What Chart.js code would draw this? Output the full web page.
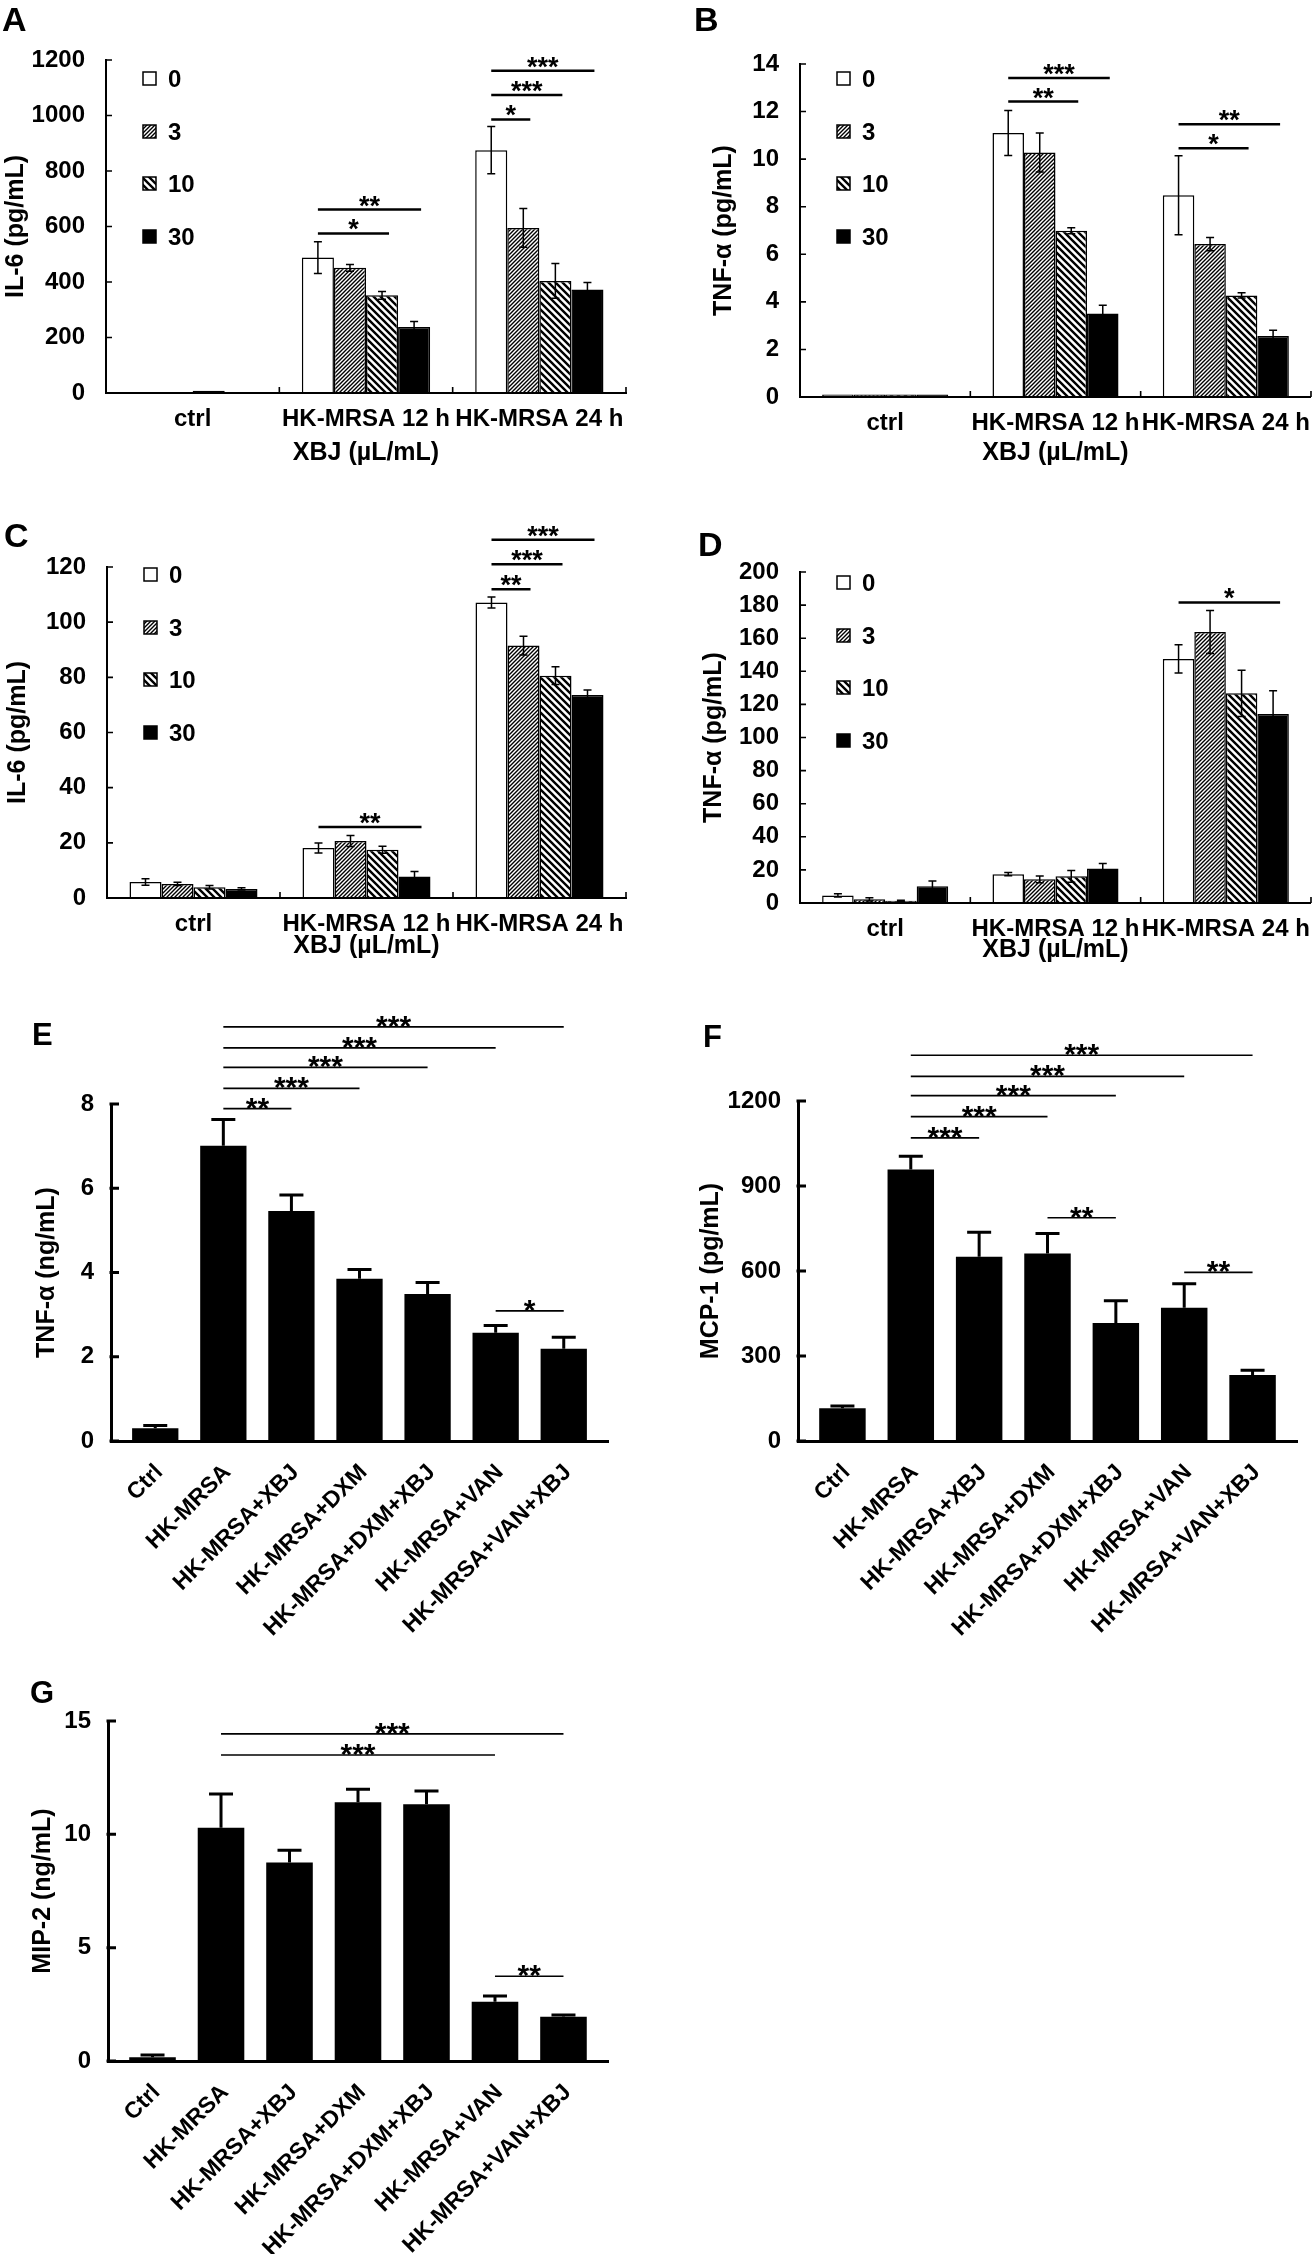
<!DOCTYPE html>
<html>
<head>
<meta charset="utf-8">
<script src="https://cdn.jsdelivr.net/npm/chart.js@4.4.1/dist/chart.umd.min.js"></script>
<style>
body{margin:0;background:#fff;}
#page{position:relative;width:1314px;height:2254px;overflow:hidden;background:#fff;}
#page canvas{position:absolute;}
.tag{position:absolute;font-family:"Liberation Sans",Arial,sans-serif;font-weight:bold;color:#000;line-height:1;}
</style>
</head>
<body>
<div id="page">
  <canvas id="chartA" width="657" height="480" style="left:0;top:0"></canvas>
  <canvas id="chartB" width="657" height="480" style="left:657px;top:0"></canvas>
  <canvas id="chartC" width="657" height="490" style="left:0;top:480px"></canvas>
  <canvas id="chartD" width="657" height="490" style="left:657px;top:480px"></canvas>
  <canvas id="chartE" width="657" height="700" style="left:0;top:970px"></canvas>
  <canvas id="chartF" width="657" height="700" style="left:657px;top:970px"></canvas>
  <canvas id="chartG" width="657" height="584" style="left:0;top:1670px"></canvas>
  <div class="tag" style="left:2px;top:2px;font-size:34px">A</div>
  <div class="tag" style="left:694px;top:2px;font-size:34px">B</div>
  <div class="tag" style="left:4px;top:518px;font-size:34px">C</div>
  <div class="tag" style="left:698px;top:527px;font-size:34px">D</div>
  <div class="tag" style="left:32px;top:1019px;font-size:31px">E</div>
  <div class="tag" style="left:703px;top:1021px;font-size:31px">F</div>
  <div class="tag" style="left:30px;top:1677px;font-size:31px">G</div>
</div>
<script>
// ---- data ----
const doseLabels = ['0', '3', '10', '30'];
const groupLabels = ['ctrl', 'HK-MRSA 12 h', 'HK-MRSA 24 h'];
const treatLabels = ['Ctrl', 'HK-MRSA', 'HK-MRSA+XBJ', 'HK-MRSA+DXM', 'HK-MRSA+DXM+XBJ', 'HK-MRSA+VAN', 'HK-MRSA+VAN+XBJ'];

// rows = XBJ dose (0, 3, 10, 30), columns = ctrl / 12 h / 24 h
const il6A = [[0, 488, 875], [0, 451, 595], [8, 352, 404], [0, 238, 373]];
const il6AErr = [[0, 57, 85], [0, 12, 70], [0, 14, 63], [0, 20, 25]];
const tnfB = [[0.1, 11.1, 8.48], [0.1, 10.28, 6.43], [0.1, 6.99, 4.27], [0.1, 3.51, 2.56]];
const tnfBErr = [[0, 0.95, 1.66], [0, 0.82, 0.28], [0, 0.13, 0.11], [0, 0.35, 0.25]];
const il6C = [[5.8, 18.1, 107.1], [5.1, 20.7, 91.5], [3.9, 17.5, 80.6], [3.3, 7.8, 73.6]];
const il6CErr = [[1.2, 1.8, 2], [0.6, 2, 3.4], [0.6, 1.3, 3.2], [0.4, 1.8, 1.8]];
const tnfD = [[4.6, 17.4, 147.5], [2.2, 14.3, 163.7], [1.4, 16.1, 126.7], [10.1, 20.8, 114.2]];
const tnfDErr = [[1, 1, 8.5], [1, 2, 13], [0.3, 3.5, 14], [3.2, 3, 14]];

// one value per treatment
const tnfE = [0.30, 7.01, 5.46, 3.85, 3.49, 2.57, 2.19];
const tnfEErr = [0.07, 0.62, 0.38, 0.22, 0.27, 0.17, 0.27];
const mcpF = [115.6, 957.8, 650.6, 661.7, 416.4, 470.2, 232.7];
const mcpFErr = [8, 47, 86, 71, 79, 85, 17];
const mipG = [0.17, 10.29, 8.76, 11.42, 11.33, 2.61, 1.95];
const mipGErr = [0.09, 1.49, 0.54, 0.57, 0.58, 0.26, 0.08];

// significance brackets: [group, fromBar, toBar, height in axis units, stars]
const sigA = [[1, 0, 2, 575, '*'], [1, 0, 3, 661, '**'], [2, 0, 1, 986, '*'], [2, 0, 2, 1074, '***'], [2, 0, 3, 1161, '***']];
const sigB = [[1, 0, 2, 12.42, '**'], [1, 0, 3, 13.41, '***'], [2, 0, 2, 10.46, '*'], [2, 0, 3, 11.47, '**']];
const sigC = [[1, 0, 3, 25.7, '**'], [2, 0, 1, 111.9, '**'], [2, 0, 2, 121, '***'], [2, 0, 3, 129.9, '***']];
const sigD = [[2, 0, 3, 181.6, '*']];
// [fromBar, toBar, height, stars]
const sigE = [[1, 2, 7.89, '**'], [1, 3, 8.37, '***'], [1, 4, 8.87, '***'], [1, 5, 9.33, '***'], [1, 6, 9.83, '***'], [5, 6, 3.09, '*']];
const sigF = [[1, 2, 1070, '***'], [1, 3, 1144.6, '***'], [1, 4, 1219, '***'], [1, 5, 1287, '***'], [1, 6, 1361.5, '***'], [3, 4, 788, '**'], [5, 6, 595, '**']];
const sigG = [[1, 5, 13.5, '***'], [1, 6, 14.43, '***'], [5, 6, 3.74, '**']];

// ---- drawing ----
const FONT = '"Liberation Sans", Arial, sans-serif';
Chart.defaults.font.family = FONT;
Chart.defaults.color = '#000';

function hatch(size, lw, forward) {
    const c = document.createElement('canvas');
    c.width = c.height = size;
    const g = c.getContext('2d');
    g.fillStyle = '#fff';
    g.fillRect(0, 0, size, size);
    g.strokeStyle = '#000';
    g.lineWidth = lw;
    g.beginPath();
    if (forward) {
        g.moveTo(0, size); g.lineTo(size, 0);
        g.moveTo(-size / 2, size / 2); g.lineTo(size / 2, -size / 2);
        g.moveTo(size / 2, size * 1.5); g.lineTo(size * 1.5, size / 2);
    } else {
        g.moveTo(0, 0); g.lineTo(size, size);
        g.moveTo(size / 2, -size / 2); g.lineTo(size * 1.5, size / 2);
        g.moveTo(-size / 2, size / 2); g.lineTo(size / 2, size * 1.5);
    }
    g.stroke();
    return g.createPattern(c, 'repeat');
}
const doseFills = ['#fff', hatch(4, 1.4, true), hatch(7, 2.4, false), '#000'];

function valueOf(d) { return typeof d === 'object' ? d.y : d; }

function errorBars(errors, twoSided, lw, cap) {
    return {
        id: 'errorBars',
        afterDatasetsDraw(chart) {
            const ctx = chart.ctx, ys = chart.scales.y;
            ctx.save();
            ctx.strokeStyle = '#000';
            ctx.lineWidth = lw;
            chart.data.datasets.forEach((ds, di) => {
                chart.getDatasetMeta(di).data.forEach((bar, i) => {
                    const e = errors[di][i];
                    if (!e) return;
                    const v = valueOf(ds.data[i]);
                    const top = ys.getPixelForValue(v + e);
                    const bot = twoSided ? ys.getPixelForValue(v - e) : bar.y;
                    ctx.beginPath();
                    ctx.moveTo(bar.x, bot); ctx.lineTo(bar.x, top);
                    ctx.moveTo(bar.x - cap, top); ctx.lineTo(bar.x + cap, top);
                    if (twoSided) { ctx.moveTo(bar.x - cap, bot); ctx.lineTo(bar.x + cap, bot); }
                    ctx.stroke();
                });
            });
            ctx.restore();
        }
    };
}

function sigMarks(marks, grouped, st) {
    return {
        id: 'sigMarks',
        afterDraw(chart) {
            const ctx = chart.ctx, ys = chart.scales.y;
            const barX = (ds, i) => chart.getDatasetMeta(ds).data[i].x;
            ctx.save();
            ctx.strokeStyle = '#000';
            ctx.fillStyle = '#000';
            ctx.lineWidth = st.lw;
            ctx.font = 'bold ' + st.size + 'px ' + FONT;
            ctx.textAlign = 'center';
            ctx.textBaseline = 'alphabetic';
            marks.forEach(m => {
                let x1, x2, h, txt;
                if (grouped) { x1 = barX(m[1], m[0]); x2 = barX(m[2], m[0]) + st.ext; h = m[3]; txt = m[4]; }
                else { x1 = barX(0, m[0]); x2 = barX(0, m[1]) + st.ext; h = m[2]; txt = m[3]; }
                const y = ys.getPixelForValue(h);
                ctx.beginPath();
                ctx.moveTo(x1, y); ctx.lineTo(x2, y);
                ctx.stroke();
                ctx.fillText(txt, (x1 + x2) / 2, y + st.base);
            });
            ctx.restore();
        }
    };
}

// tick marks pointing into the plot area
function innerTicks(len, lw, withX) {
    return {
        id: 'innerTicks',
        afterDraw(chart) {
            const ctx = chart.ctx, xs = chart.scales.x, ys = chart.scales.y;
            const {left, bottom} = chart.chartArea;
            ctx.save();
            ctx.strokeStyle = '#000';
            ctx.lineWidth = lw;
            ctx.beginPath();
            ys.ticks.forEach((t, i) => {
                const p = ys.getPixelForTick(i);
                ctx.moveTo(left - lw / 2, p); ctx.lineTo(left + len, p);
            });
            if (withX) {
                for (let i = 1; i <= xs.ticks.length; i++) {
                    const p = xs.getPixelForValue(i - 0.5);
                    ctx.moveTo(p, bottom); ctx.lineTo(p, bottom - len);
                }
            }
            ctx.stroke();
            ctx.restore();
        }
    };
}

function doseLegend(first) {
    return {
        id: 'doseLegend',
        afterDraw(chart) {
            const ctx = chart.ctx, {left, top} = chart.chartArea;
            ctx.save();
            ctx.font = 'bold 24px ' + FONT;
            ctx.textBaseline = 'middle';
            ctx.lineWidth = 1.5;
            chart.data.datasets.forEach((ds, i) => {
                const y = Math.round(top + first + i * 52.7);
                ctx.fillStyle = ds.backgroundColor;
                ctx.fillRect(left + 37, y - 7, 13, 13);
                ctx.strokeStyle = '#000';
                ctx.strokeRect(left + 37, y - 7, 13, 13);
                ctx.fillStyle = '#000';
                ctx.fillText(ds.label, left + 62, y + 1);
            });
            ctx.restore();
        }
    };
}

const plainNumber = v => String(v);

function groupedChart(id, values, errors, yMax, yStep, yTitle, sigs, lay) {
    return new Chart(document.getElementById(id), {
        type: 'bar',
        data: {
            labels: groupLabels,
            datasets: doseLabels.map((d, i) => ({
                label: d,
                data: values[i],
                backgroundColor: doseFills[i],
                borderColor: '#000',
                borderWidth: 1.5
            }))
        },
        options: {
            responsive: false,
            animation: false,
            events: [],
            layout: {padding: {top: lay.top, right: lay.right, left: 0, bottom: 0}},
            datasets: {bar: {categoryPercentage: 0.74, barPercentage: 1}},
            plugins: {legend: {display: false}, tooltip: {enabled: false}},
            scales: {
                x: {
                    grid: {display: false},
                    border: {color: '#000', width: 2, z: 1},
                    ticks: {font: {size: 24, weight: 'bold'}, padding: 4, maxRotation: 0, autoSkip: false},
                    title: {display: true, text: 'XBJ (µL/mL)', font: {size: 25, weight: 'bold'}, padding: {top: 0, bottom: lay.xPad}},
                    afterFit: s => { s.height = lay.xH; }
                },
                y: {
                    min: 0,
                    max: yMax,
                    grid: {display: false},
                    border: {color: '#000', width: 2, z: 1},
                    ticks: {stepSize: yStep, padding: 13, font: {size: 24, weight: 'bold'}, callback: plainNumber},
                    title: {display: true, text: yTitle, font: {size: 25, weight: 'bold'}, padding: {top: lay.yPad, bottom: 0}},
                    afterFit: s => { s.width = lay.yW; }
                }
            }
        },
        plugins: [errorBars(errors, true, 1.5, 4), innerTicks(6, 1.6, true), doseLegend(lay.legend),
                  sigMarks(sigs, true, {lw: 2.5, size: 27, base: 5, ext: 7})]
    });
}

function treatmentChart(id, values, errors, yMax, yStep, yTitle, sigs, lay) {
    return new Chart(document.getElementById(id), {
        type: 'bar',
        data: {
            datasets: [{
                data: values.map((v, i) => ({x: i, y: v})),
                backgroundColor: '#000',
                borderWidth: 0,
                barPercentage: 0.68,
                categoryPercentage: 1
            }]
        },
        options: {
            responsive: false,
            animation: false,
            events: [],
            layout: {padding: {top: lay.top, right: lay.right, left: 0, bottom: 0}},
            plugins: {legend: {display: false}, tooltip: {enabled: false}},
            scales: {
                x: {
                    type: 'linear',
                    offset: false,
                    bounds: 'data',
                    min: -0.65,
                    max: treatLabels.length - 0.35,
                    afterBuildTicks: s => { s.ticks = treatLabels.map((t, i) => ({value: i})); },
                    grid: {display: false},
                    border: {color: '#000', width: 3, z: 1},
                    ticks: {autoSkip: false, minRotation: 45, maxRotation: 45, padding: 10, labelOffset: 4,
                            font: {size: 23, weight: 'bold'}, callback: v => treatLabels[v]},
                    afterFit: s => { s.height = lay.xH; }
                },
                y: {
                    min: 0,
                    max: yMax,
                    grid: {display: false},
                    border: {color: '#000', width: 3, z: 1},
                    ticks: {stepSize: yStep, padding: 9, font: {size: 24, weight: 'bold'}, callback: plainNumber},
                    title: {display: true, text: yTitle, font: {size: 25, weight: 'bold'}, padding: {top: lay.yPad, bottom: 0}},
                    afterFit: s => { s.width = lay.yW; }
                }
            }
        },
        plugins: [errorBars([errors], false, 3, 12), innerTicks(8, 3, false),
                  sigMarks(sigs, false, {lw: 1.7, size: 30, base: 9, ext: 0})]
    });
}

groupedChart('chartA', il6A, il6AErr, 1200, 200, 'IL-6 (pg/mL)', sigA,
    {top: 60, right: 31, yW: 106, xH: 87, yPad: 1, xPad: 12, legend: 19});
groupedChart('chartB', tnfB, tnfBErr, 14, 2, 'TNF-α (pg/mL)', sigB,
    {top: 64, right: 1, yW: 143, xH: 83, yPad: 52, xPad: 12, legend: 15});
groupedChart('chartC', il6C, il6CErr, 120, 20, 'IL-6 (pg/mL)', sigC,
    {top: 87, right: 31, yW: 107, xH: 72, yPad: 3, xPad: 9, legend: 8});
groupedChart('chartD', tnfD, tnfDErr, 200, 20, 'TNF-α (pg/mL)', sigD,
    {top: 92, right: 1, yW: 143, xH: 67, yPad: 42, xPad: 5, legend: 11});
treatmentChart('chartE', tnfE, tnfEErr, 8, 2, 'TNF-α (ng/mL)', sigE,
    {top: 134, right: 49, yW: 111, xH: 229, yPad: 32});
treatmentChart('chartF', mcpF, mcpFErr, 1200, 300, 'MCP-1 (pg/mL)', sigF,
    {top: 131, right: 17, yW: 141, xH: 229, yPad: 39});
treatmentChart('chartG', mipG, mipGErr, 15, 5, 'MIP-2 (ng/mL)', sigG,
    {top: 51, right: 49, yW: 108, xH: 193, yPad: 28});
</script>
</body>
</html>
